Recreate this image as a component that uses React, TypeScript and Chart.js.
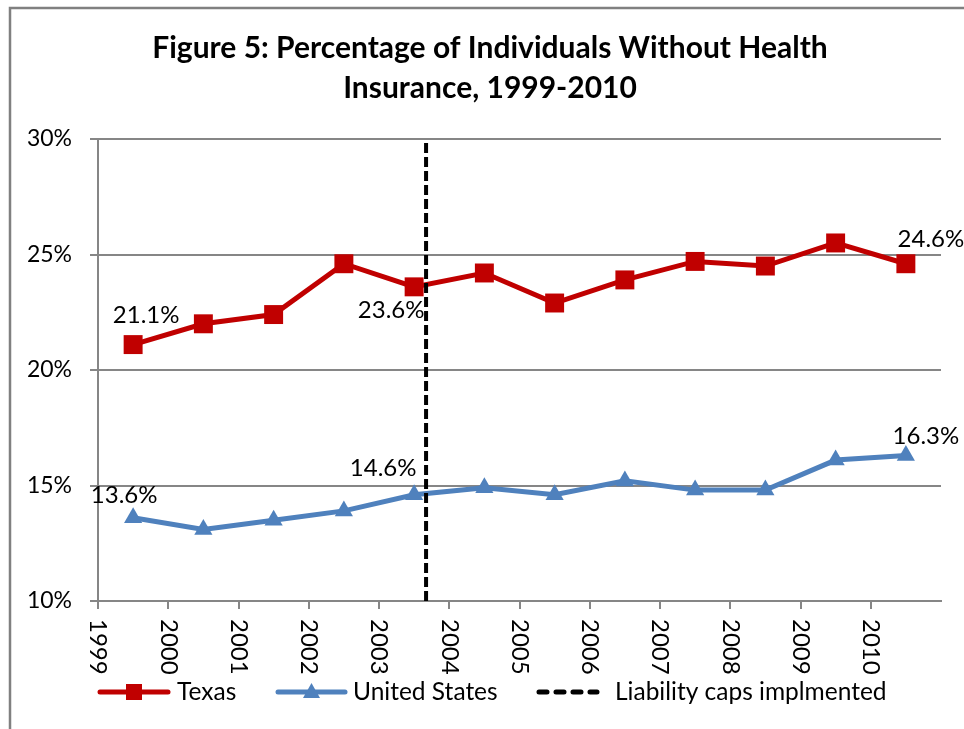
import React, { useEffect, useRef } from "react";
import { Chart, registerables } from "chart.js";

Chart.register(...registerables);

const years = ["1999", "2000", "2001", "2002", "2003", "2004", "2005", "2006", "2007", "2008", "2009", "2010"];
const texas = [21.1, 22.0, 22.4, 24.6, 23.6, 24.2, 22.9, 23.9, 24.7, 24.5, 25.5, 24.6];
const unitedStates = [13.6, 13.1, 13.5, 13.9, 14.6, 14.9, 14.6, 15.2, 14.8, 14.8, 16.1, 16.3];
const capsPosition = 4.67; // year-axis position of the liability caps line
const yTicks = [10, 15, 20, 25, 30];
const titleLines = ["Figure 5: Percentage of Individuals Without Health", "Insurance, 1999-2010"];
const seriesNames = ["Texas", "United States", "Liability caps implmented"];

// which points get a value label: [series, index, dx, dy]
const labelSpecs: [number, number, number, number][] = [
  [0, 0, 13, -29],
  [0, 4, -23, 23],
  [0, 11, 25, -24],
  [1, 0, -9, -23],
  [1, 4, -31, -26],
  [1, 11, 20, -19],
];

const RED = "#C00000";
const BLUE = "#4F81BD";
const GREY = "#868686";
const FONT = "Lato, 'Open Sans', sans-serif";

export default function App() {
  const ref = useRef<HTMLCanvasElement | null>(null);

  useEffect(() => {
    if (!ref.current) return;
    const decor = {
      id: "decor",
      afterDraw(chart: any) {
        const ctx = chart.ctx as CanvasRenderingContext2D;
        const xs = chart.scales.x;
        const ys = chart.scales.y;
        ctx.save();
        // frame
        ctx.strokeStyle = "#808080";
        ctx.lineWidth = 2.5;
        ctx.beginPath();
        ctx.moveTo(10, 729);
        ctx.lineTo(10, 8);
        ctx.lineTo(964, 8);
        ctx.stroke();
        // title
        ctx.fillStyle = "#000";
        ctx.font = `bold 30px ${FONT}`;
        ctx.textAlign = "center";
        ctx.textBaseline = "middle";
        ctx.fillText(titleLines[0], 490, 48);
        ctx.fillText(titleLines[1], 490, 88);
        // x tick labels rotated clockwise
        ctx.font = `24px ${FONT}`;
        ctx.textAlign = "left";
        ctx.textBaseline = "middle";
        years.forEach((y, i) => {
          const px = xs.getPixelForValue(i);
          ctx.save();
          ctx.translate(px, 619);
          ctx.rotate(Math.PI / 2);
          ctx.fillText(y, 0, 0);
          ctx.restore();
        });
        // data labels
        ctx.font = `24px ${FONT}`;
        ctx.textAlign = "center";
        ctx.textBaseline = "middle";
        const series = [texas, unitedStates];
        labelSpecs.forEach(([s, i, dx, dy]) => {
          const v = series[s][i];
          const px = xs.getPixelForValue(i + 0.5);
          const py = ys.getPixelForValue(v);
          ctx.fillText(v.toFixed(1) + "%", px + dx, py + dy);
        });
        // legend
        const ly = 692;
        ctx.lineCap = "round";
        ctx.lineWidth = 5;
        ctx.strokeStyle = RED;
        ctx.beginPath();
        ctx.moveTo(100, ly);
        ctx.lineTo(168, ly);
        ctx.stroke();
        ctx.fillStyle = RED;
        ctx.fillRect(126, ly - 8, 16, 16);
        ctx.strokeStyle = BLUE;
        ctx.beginPath();
        ctx.moveTo(278, ly);
        ctx.lineTo(345, ly);
        ctx.stroke();
        ctx.fillStyle = BLUE;
        ctx.beginPath();
        ctx.moveTo(311.5, ly - 9);
        ctx.lineTo(320, ly + 6);
        ctx.lineTo(303, ly + 6);
        ctx.closePath();
        ctx.fill();
        ctx.strokeStyle = "#000";
        ctx.setLineDash([8, 9]);
        ctx.beginPath();
        ctx.moveTo(539, ly);
        ctx.lineTo(597, ly);
        ctx.stroke();
        ctx.setLineDash([]);
        ctx.fillStyle = "#000";
        ctx.font = `24.5px ${FONT}`;
        ctx.textAlign = "left";
        ctx.textBaseline = "middle";
        ctx.fillText(seriesNames[0], 177, ly);
        ctx.fillText(seriesNames[1], 353, ly);
        ctx.fillText(seriesNames[2], 615, ly);
        ctx.restore();
      },
    };

    const chart = new Chart(ref.current, {
      type: "line",
      data: {
        datasets: [
          {
            label: seriesNames[2],
            data: [
              { x: capsPosition, y: yTicks[0] },
              { x: capsPosition, y: yTicks[yTicks.length - 1] },
            ],
            borderColor: "#000",
            borderWidth: 4,
            borderDash: [10, 4],
            pointRadius: 0,
            order: 0,
          },
          {
            label: seriesNames[0],
            data: texas.map((v, i) => ({ x: i + 0.5, y: v })),
            borderColor: RED,
            backgroundColor: RED,
            borderWidth: 5,
            pointStyle: "rect",
            pointRadius: 13.4,
            pointBorderWidth: 0,
            order: 1,
          },
          {
            label: seriesNames[1],
            data: unitedStates.map((v, i) => ({ x: i + 0.5, y: v })),
            borderColor: BLUE,
            backgroundColor: BLUE,
            borderWidth: 5,
            pointStyle: "triangle",
            pointRadius: 10.5,
            pointBorderWidth: 0,
            order: 2,
          },
        ],
      },
      options: {
        animation: false,
        responsive: false,
        maintainAspectRatio: false,
        layout: { padding: { left: 0, top: 139, right: 23, bottom: 0 } },
        plugins: { legend: { display: false }, title: { display: false }, tooltip: { enabled: false } },
        scales: {
          x: {
            type: "linear",
            min: 0,
            max: years.length,
            ticks: { display: false, stepSize: 1 },
            grid: {
              drawOnChartArea: false,
              drawTicks: true,
              tickLength: 8,
              lineWidth: 2,
              color: (c: any) => (c.tick && c.tick.value === years.length ? "rgba(0,0,0,0)" : GREY),
            },
            border: { color: GREY, width: 2 },
            afterFit: (s: any) => {
              s.height = 128;
            },
          },
          y: {
            min: yTicks[0],
            max: yTicks[yTicks.length - 1],
            afterBuildTicks: (s: any) => {
              s.ticks = yTicks.map((v) => ({ value: v }));
            },
            ticks: {
              padding: 18,
              color: "#000",
              font: { family: FONT, size: 23 },
              callback: (v: any) => `${v}%`,
            },
            grid: { color: GREY, lineWidth: 2, tickLength: 8 },
            border: { color: GREY, width: 2 },
            afterFit: (s: any) => {
              s.width = 98;
            },
          },
        },
      },
      plugins: [decor],
    });
    return () => chart.destroy();
  }, []);

  return (
    <div style={{ position: "absolute", left: 0, top: 0, width: 964, height: 729, background: "#fff" }}>
      <canvas ref={ref} width={964} height={729} style={{ width: 964, height: 729, display: "block" }} />
    </div>
  );
}
